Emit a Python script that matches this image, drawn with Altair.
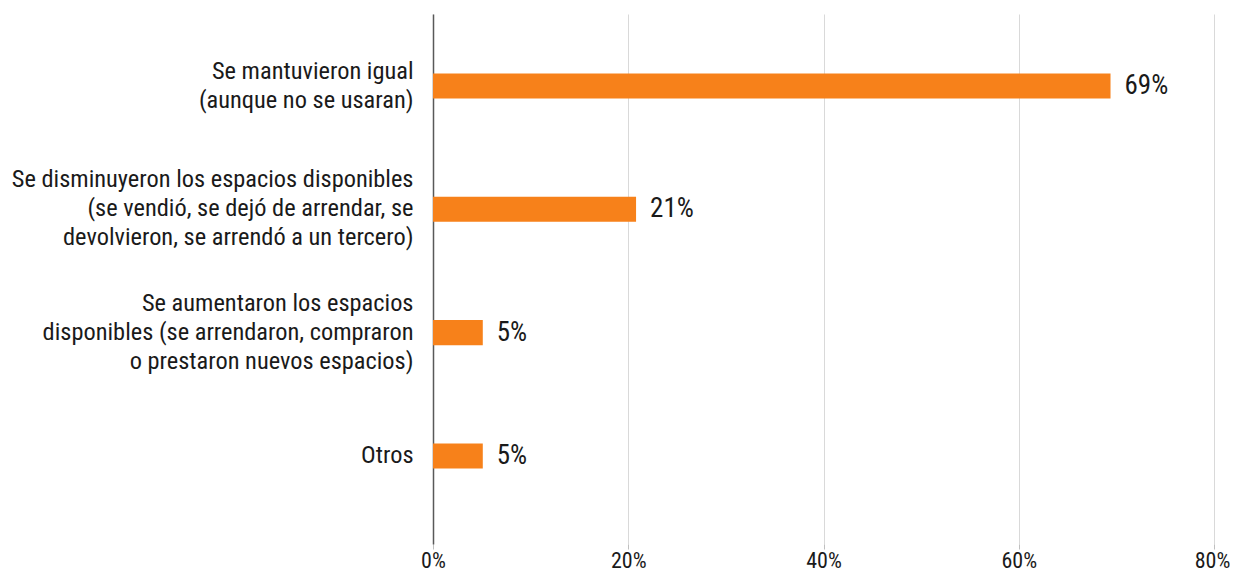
import altair as alt
import pandas as pd

categories = [
    "Se mantuvieron igual\n(aunque no se usaran)",
    "Se disminuyeron los espacios disponibles\n(se vendió, se dejó de arrendar, se\ndevolvieron, se arrendó a un tercero)",
    "Se aumentaron los espacios\ndisponibles (se arrendaron, compraron\no prestaron nuevos espacios)",
    "Otros",
]
values = [0.694, 0.208, 0.051, 0.051]
x_ticks = [0, 0.2, 0.4, 0.6, 0.8]

df = pd.DataFrame({"cat": categories, "val": values})

FONT = "Roboto Condensed, Liberation Sans Narrow, Arial Narrow, sans-serif"
ORANGE = "#F7811A"
TEXT = "#1a1a1a"
LH = 29

y_enc = alt.Y(
    "cat:N",
    sort=categories,
    title=None,
    scale=alt.Scale(paddingInner=0.797, paddingOuter=0.548, align=0.4407),
    axis=alt.Axis(
        labelExpr="split(datum.label, '\\n')",
        labelLineHeight=LH,
        labelFontSize=24.4,
        labelFont=FONT,
        labelColor=TEXT,
        labelPadding=20,
        labelLimit=500,
        labelOffset={
            "condition": [
                {"test": "length(split(datum.label, '\\n')) == 2", "value": -LH / 2},
                {"test": "length(split(datum.label, '\\n')) == 3", "value": -LH},
            ],
            "value": 0,
        },
        ticks=False,
        grid=False,
        domain=True,
        domainColor="#595959",
        domainWidth=1.5,
    ),
)

x_enc = alt.X(
    "val:Q",
    title=None,
    scale=alt.Scale(domain=[0, 0.8], nice=False),
    axis=alt.Axis(
        values=x_ticks,
        format=".0%",
        labelFontSize=22,
        labelFont=FONT,
        labelColor=TEXT,
        labelPadding=1,
        labelFlush=False,
        labelOffset={
            "condition": {"test": "datum.value >= 0.79", "value": -2},
            "value": 0,
        },
        grid=True,
        gridColor="#d9d9d9",
        gridWidth=1,
        domain=False,
        ticks=True,
        tickColor="#bfbfbf",
        tickSize=5,
    ),
)

base = alt.Chart(df)

bars = base.mark_bar(color=ORANGE).encode(x=x_enc, y=y_enc)

labels = base.mark_text(
    align="left", baseline="middle", dx=14, fontSize=27, font=FONT, color=TEXT
).encode(
    x="val:Q",
    y=alt.Y("cat:N", sort=categories),
    text=alt.Text("val:Q", format=".0%"),
)

chart = (
    alt.layer(bars, labels)
    .properties(
        width=781,
        height=530,
        autosize="none",
        padding={"left": 425, "top": 6, "right": 16, "bottom": 33},
    )
    .configure(background="white")
    .configure_view(stroke=None)
)

chart.save("out.html", embed_options={"renderer": "svg", "actions": False})
